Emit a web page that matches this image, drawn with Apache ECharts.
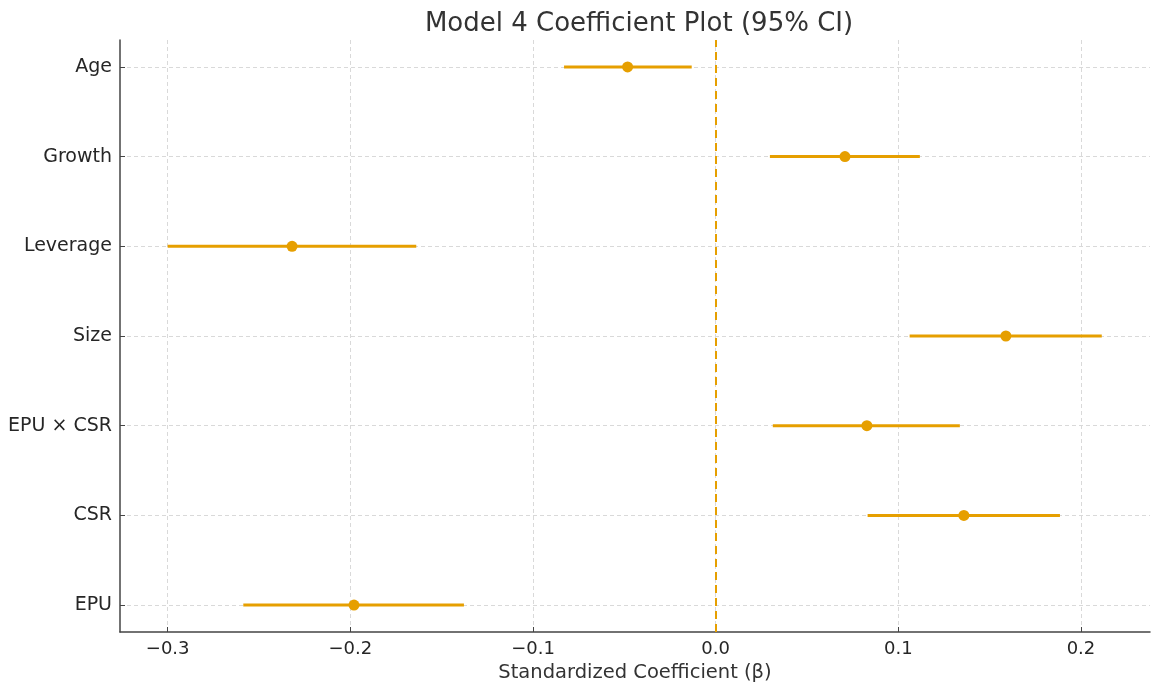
<!DOCTYPE html>
<html>
<head>
<meta charset="utf-8">
<script src="https://cdn.jsdelivr.net/npm/echarts@6/dist/echarts.min.js"></script>
<style>html,body{margin:0;padding:0;background:#fff;}#c{width:1155px;height:683px;}</style>
</head>
<body>
<div id="c"></div>
<script>
const categories = ['EPU', 'CSR', 'EPU × CSR', 'Size', 'Leverage', 'Growth', 'Age'];
const estimates = [-0.198, 0.1359, 0.0828, 0.1589, -0.2319, 0.0708, -0.0482];
const ciLow = [-0.2586, 0.0832, 0.0313, 0.1062, -0.3000, 0.0297, -0.0830];
const ciHigh = [-0.1378, 0.1885, 0.1337, 0.2114, -0.1639, 0.1118, -0.0131];
const xTicks = [-0.3, -0.2, -0.1, 0.0, 0.1, 0.2];
const yTicks = [0, 1, 2, 3, 4, 5, 6];

const ORANGE = '#E69F00';
const FONT = 'DejaVu Sans';

const ciData = categories.map((c, i) => [ciLow[i], ciHigh[i], i]);
const ptData = categories.map((c, i) => [estimates[i], i]);

const chart = echarts.init(document.getElementById('c'), null, {renderer: 'canvas'});
chart.setOption({
  backgroundColor: '#fff',
  animation: false,
  title: {
    text: 'Model 4 Coefficient Plot (95% CI)',
    left: 634, top: 6, textAlign: 'center',
    textStyle: {fontFamily: FONT, fontSize: 26, fontWeight: 'normal', color: '#333'}
  },
  grid: {left: 120, right: 5, top: 40, bottom: 51, containLabel: false, outerBoundsMode: 'none'},
  xAxis: {
    type: 'value', min: -0.3261, max: 0.2378,
    name: 'Standardized Coefficient (β)', nameLocation: 'middle', nameGap: 30,
    nameTextStyle: {fontFamily: FONT, fontSize: 19.5, color: '#333'},
    axisLine: {show: true, onZero: false, lineStyle: {color: '#444', width: 1.5}},
    axisTick: {show: true, inside: true, length: 5, lineStyle: {color: '#444'}, customValues: xTicks},
    axisLabel: {
      customValues: xTicks, fontFamily: FONT, fontSize: 18, color: '#262626', margin: 8,
      formatter: v => (Math.abs(v) < 1e-9 ? '0.0' : v.toFixed(1).replace('-', '\u2212'))
    },
    splitLine: {show: true, lineStyle: {color: '#d9d9d9', type: [4, 3], width: 1}}
  },
  yAxis: {
    type: 'value', min: -0.3, max: 6.3,
    axisLine: {show: true, onZero: false, lineStyle: {color: '#444', width: 1.5}},
    axisTick: {show: true, inside: true, length: 5, lineStyle: {color: '#444'}, customValues: yTicks},
    axisLabel: {
      customValues: yTicks, fontFamily: FONT, fontSize: 19, color: '#262626', margin: 8,
      formatter: v => categories[Math.round(v)]
    },
    splitLine: {show: true, lineStyle: {color: '#d9d9d9', type: [4, 3], width: 1}}
  },
  series: [
    {
      type: 'custom',
      data: ciData,
      encode: {x: [0, 1], y: 2},
      renderItem: function (params, api) {
        const a = api.coord([api.value(0), api.value(2)]);
        const b = api.coord([api.value(1), api.value(2)]);
        return {
          type: 'line',
          shape: {x1: a[0], y1: a[1], x2: b[0], y2: b[1]},
          style: {stroke: ORANGE, lineWidth: 3}
        };
      },
      z: 3
    },
    {
      type: 'scatter',
      data: ptData,
      symbol: 'circle', symbolSize: 11,
      itemStyle: {color: ORANGE, opacity: 1},
      z: 4,
      markLine: {
        silent: true, symbol: 'none', label: {show: false},
        lineStyle: {color: ORANGE, type: [8, 5], width: 2},
        data: [{xAxis: 0}]
      }
    }
  ]
});
</script>
</body>
</html>
